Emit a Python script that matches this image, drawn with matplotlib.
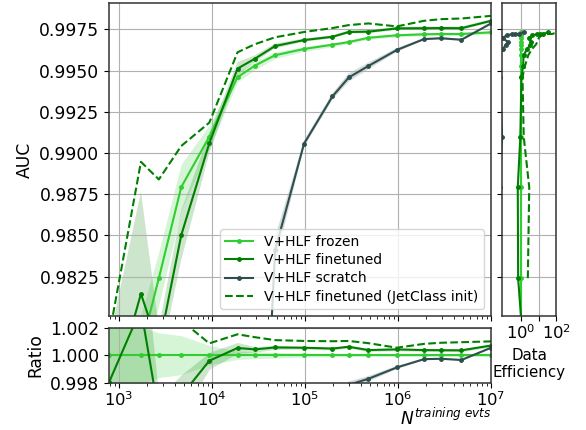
import matplotlib
matplotlib.use("Agg")
import matplotlib.pyplot as plt
import numpy as np
from matplotlib.ticker import MultipleLocator, FormatStrFormatter

plt.rcParams['font.size'] = 12.3
plt.rcParams['axes.linewidth'] = 1.1
plt.rcParams['axes.edgecolor'] = '#333333'

# training set sizes
n_evts = [780, 1720, 2680, 4660, 9350, 18800, 28900, 47600, 97500, 197000,
          295000, 480000, 970000, 1.9e6, 2.9e6, 4.8e6, 1e7]

auc_frozen = [0.97650, 0.97815, 0.98240, 0.98792, 0.99099, 0.99460, 0.99530,
              0.99593, 0.99631, 0.99657, 0.99673, 0.99699, 0.99714, 0.99720,
              0.99722, 0.99722, 0.99732]
err_frozen = [0.0020, 0.0020, 0.0016, 0.0014, 0.0007, 0.0003, 0.00025, 0.0002,
              0.00015, 0.00012, 0.0001, 0.0001, 0.0001, 0.0001, 0.0001, 0.0001, 0.0001]

auc_finetuned = [0.97457, 0.98145, 0.97820, 0.98500, 0.99059, 0.99512, 0.99572,
                 0.99649, 0.99685, 0.99705, 0.99734, 0.99736, 0.99756, 0.99757,
                 0.99758, 0.99757, 0.99802]
err_finetuned = [0.0040, 0.0062, 0.0012, 0.0015, 0.0006, 0.0004, 0.0002, 0.00015,
                 0.0001, 0.0001, 0.0001, 0.0001, 0.0001, 0.0001, 0.0001, 0.0001, 0.0001]

# scratch only reaches the plotted range from ~3e4 events on
n_scratch = n_evts[6:]
auc_scratch = [0.95890, 0.98409, 0.99056, 0.99343, 0.99458, 0.99528, 0.99625,
               0.99691, 0.99696, 0.99687, 0.99786]
err_scratch = [0.0010, 0.0008, 0.0002, 0.0002, 0.00025, 0.0002, 0.00012,
               0.00006, 0.00006, 0.00006, 0.00006]

auc_jetclass = [0.97886, 0.98946, 0.98839, 0.99042, 0.99184, 0.99611, 0.99660,
                0.99702, 0.99734, 0.99758, 0.99776, 0.99786, 0.99768, 0.99802,
                0.99812, 0.99816, 0.99832]

c_frozen = "limegreen"
c_fine = "green"
c_scratch = "darkslategray"


def n_needed(target, n, auc):
    # first N at which a curve reaches the target AUC
    for i in range(len(auc) - 1):
        lo, hi = auc[i], auc[i + 1]
        if hi > lo and lo <= target <= hi:
            t = (target - lo) / (hi - lo)
            return n[i] + t * (n[i + 1] - n[i])
    return np.nan


def efficiency(n, auc):
    return [nf / n_needed(a, n, auc) for nf, a in zip(n_evts, auc_frozen)]


fig = plt.figure(figsize=(5.86, 4.30), dpi=100)
ax = fig.add_axes([0.186, 0.265, 0.652, 0.728])
axr = fig.add_axes([0.186, 0.110, 0.652, 0.128], sharex=ax)
axe = fig.add_axes([0.857, 0.265, 0.092, 0.728], sharey=ax)

fr = np.array(auc_frozen)
kw = dict(marker="o", ms=2.5, lw=1.5)

# main panel
ax.fill_between(n_evts, fr - err_frozen, fr + err_frozen, color=c_frozen, alpha=0.2, lw=0)
ax.fill_between(n_evts, np.array(auc_finetuned) - err_finetuned,
                np.array(auc_finetuned) + err_finetuned, color=c_fine, alpha=0.2, lw=0)
ax.fill_between(n_scratch, np.array(auc_scratch) - err_scratch,
                np.array(auc_scratch) + err_scratch, color=c_scratch, alpha=0.2, lw=0)
ax.plot(n_evts, auc_frozen, color=c_frozen, label="V+HLF frozen", **kw)
ax.plot(n_evts, auc_finetuned, color=c_fine, label="V+HLF finetuned", **kw)
ax.plot(n_scratch, auc_scratch, color=c_scratch, label="V+HLF scratch", **kw)
ax.plot(n_evts, auc_jetclass, color=c_fine, ls="--", lw=1.5,
        label="V+HLF finetuned (JetClass init)")

ax.set_xscale("log")
ax.set_xlim(780, 1e7)
ax.set_ylim(0.9801, 0.9991)
ax.yaxis.set_major_locator(MultipleLocator(0.0025))
ax.yaxis.set_major_formatter(FormatStrFormatter("%.4f"))
ax.set_ylabel("AUC")
ax.tick_params(labelbottom=False)
ax.grid(True)
ax.legend(loc="lower right", fontsize=10, labelspacing=0.3)

# ratio panel
fr_s = np.interp(np.log10(n_scratch), np.log10(n_evts), fr)
axr.fill_between(n_evts, (fr - err_frozen) / fr, (fr + err_frozen) / fr,
                 color=c_frozen, alpha=0.2, lw=0)
axr.fill_between(n_evts, (np.array(auc_finetuned) - err_finetuned) / fr,
                 (np.array(auc_finetuned) + err_finetuned) / fr, color=c_fine, alpha=0.2, lw=0)
axr.fill_between(n_scratch, (np.array(auc_scratch) - err_scratch) / fr_s,
                 (np.array(auc_scratch) + err_scratch) / fr_s, color=c_scratch, alpha=0.2, lw=0)
axr.plot(n_evts, fr / fr, color=c_frozen, **kw)
axr.plot(n_evts, np.array(auc_finetuned) / fr, color=c_fine, **kw)
axr.plot(n_scratch, np.array(auc_scratch) / fr_s, color=c_scratch, **kw)
axr.plot(n_evts, np.array(auc_jetclass) / fr, color=c_fine, ls="--", lw=1.5)
axr.set_ylim(0.998, 1.002)
axr.set_yticks([0.998, 1.0, 1.002])
axr.yaxis.set_major_formatter(FormatStrFormatter("%.3f"))
axr.tick_params(axis="x", labelsize=11.8, pad=2)
axr.set_ylabel("Ratio")
axr.set_xlabel(r"$N^{training\ evts}$", loc="right", labelpad=-1)
axr.grid(True)

# data efficiency panel
axe.plot(np.ones(len(n_evts)), auc_frozen, color=c_frozen, **kw)
axe.plot(efficiency(n_evts, auc_finetuned), auc_frozen, color=c_fine, **kw)
axe.plot(efficiency(n_scratch, auc_scratch), auc_frozen, color=c_scratch, **kw)
axe.plot(efficiency(n_evts, auc_jetclass), auc_frozen, color=c_fine, ls="--", lw=1.5)
axe.set_xscale("log")
axe.set_xlim(0.085, 100)
axe.set_xticks([1, 10, 100])
axe.set_xticklabels([r"$10^0$", "", r"$10^2$"])
axe.tick_params(labelleft=False)
axe.tick_params(axis="x", labelsize=11.8, pad=2)
axe.set_xlabel("Data\nEfficiency", fontsize=10.8)
axe.grid(True)

fig.savefig("out.png", dpi=100)
